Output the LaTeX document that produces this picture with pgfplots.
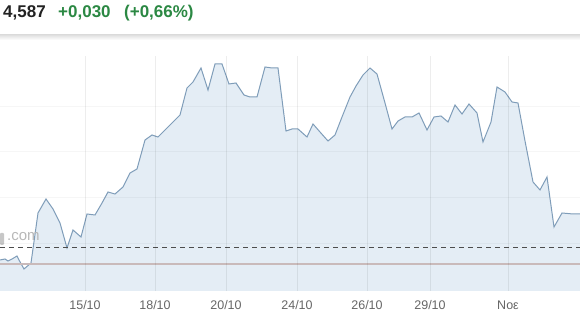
\documentclass[border=0pt]{standalone}
\usepackage{fontspec}
\setmainfont{Liberation Sans}
\usepackage{pgfplots}
\pgfplotsset{compat=1.18}
\usepackage{pgfplotstable}
\definecolor{fillc}{HTML}{E4EDF5}
\definecolor{linec}{HTML}{7F9DB9}
\definecolor{upg}{HTML}{2B8843}
\definecolor{ticktxt}{HTML}{666666}
\definecolor{refl}{HTML}{C9BABA}
\definecolor{pricec}{HTML}{222222}

\pgfplotstableread{
x v
0 31
5 32
8 30
12 32
17 35
19 31
24 22
31 28
38 78
46 92
53 82
60 68
67 43
73 61
81 54
87 77
95 76
102 88
108 99
115 97
123 104
130 118
137 122
145 151
152 156
158 154
165 161
173 169
180 176
187 203
193 209
201 223
208 201
215 227
222 227
229 207
236 208
244 196
250 194
257 194
265 224
272 223
278 223
286 160
292 162
298 162
307 154
313 167
320 159
328 150
335 156
342 174
350 194
356 205
363 216
370 223
377 217
385 188
392 162
398 170
405 174
412 174
419 178
427 161
434 174
441 175
448 169
455 186
462 177
469 187
477 178
483 149
491 169
497 204
505 199
512 189
518 188
525 150
533 109
540 101
547 114
554 64
562 78
573 77
580 77
}\data

\begin{document}
\begin{tikzpicture}
\begin{axis}[
  scale only axis, width=580pt, height=235pt,
  xmin=0, xmax=580, ymin=0, ymax=235,
  axis line style={draw=none},
  clip=false,
  xtick={85,155,226,297,367,430,508},
  xticklabels={15/10,18/10,20/10,24/10,26/10,29/10,Noε},
  ytick={48,94,140,185}, yticklabels={},
  xmajorgrids, ymajorgrids,
  x grid style={black, opacity=0.07, line width=0.8pt},
  y grid style={black, opacity=0.035, line width=0.8pt},
  tick style={draw=none},
  xticklabel style={font=\fontsize{12.5}{14}\selectfont, text=ticktxt, anchor=center, yshift=-14pt},
  axis on top,
]
\addplot[draw=none, fill=fillc] table {\data} \closedcycle;
\addplot[linec, line width=1pt] table {\data};
\draw[refl, line width=1.5pt] (axis cs:0,27) -- (axis cs:580,27);
\draw[black!70, dash pattern=on 5pt off 4pt, line width=1pt] (axis cs:0,43) -- (axis cs:580,43);
\fill[black!22, rounded corners=1pt] (axis cs:0,46) rectangle (axis cs:4,58);
\node[anchor=base west, inner sep=0, text=black!28, font=\fontsize{15}{17}\selectfont] at (axis cs:7,50) {.com};
\shade[top color=black!12, bottom color=white] (axis cs:0,251) rectangle (axis cs:580,256);
\node[anchor=base west, inner sep=0, text=pricec, font=\bfseries\fontsize{17}{20}\selectfont] at (axis cs:3,273) {4,587};
\node[anchor=base west, inner sep=0, text=upg, font=\bfseries\fontsize{17}{20}\selectfont] at (axis cs:58,273) {+0,030};
\node[anchor=base west, inner sep=0, text=upg, font=\bfseries\fontsize{17}{20}\selectfont] at (axis cs:124,273) {(+0,66\%)};
\end{axis}
\pgfresetboundingbox
\path[use as bounding box] (0,-45pt) rectangle (580pt,291pt);
\end{tikzpicture}
\end{document}
